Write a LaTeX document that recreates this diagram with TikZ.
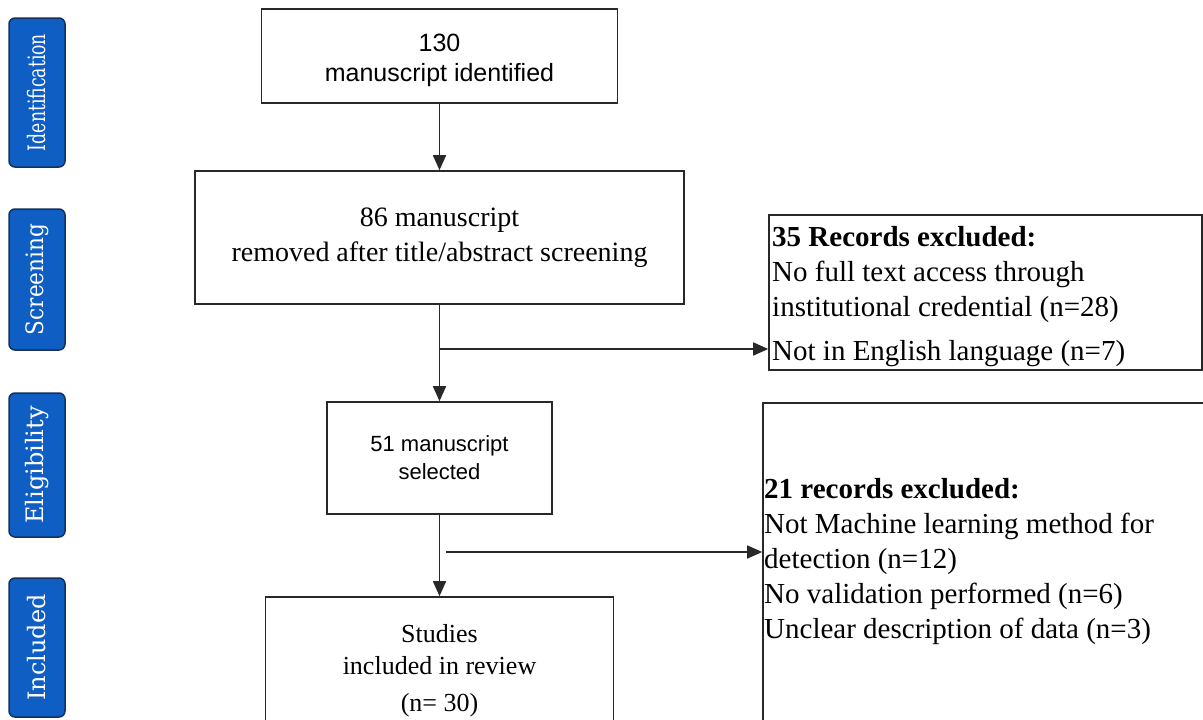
\documentclass[tikz,border=0pt]{standalone}
\usepackage{fontspec}
\usepackage{graphicx}
\setmainfont{Liberation Serif}
\setsansfont{Liberation Sans}
\newfontfamily\slabfont{DejaVu Serif}
\usetikzlibrary{arrows.meta}
\definecolor{phaseblue}{RGB}{14,94,196}
\definecolor{phaseedge}{RGB}{22,48,92}
\definecolor{boxline}{RGB}{40,40,40}
\begin{document}
\begin{tikzpicture}[x=1pt,y=-1pt,
  phase/.style={draw=phaseedge, fill=phaseblue, line width=1.5pt, rounded corners=6pt,
    minimum height=56pt, text=white, inner sep=0pt, rotate=90,
    font=\slabfont\fontsize{24}{24}\selectfont},
  flowbox/.style={draw=boxline, line width=1.6pt, align=center, inner sep=4pt},
  arr/.style={line width=1.6pt, draw=boxline, -{Triangle[length=15pt,width=13pt]}},
]
\useasboundingbox (0,0) rectangle (1203,720);
\clip (0,0) rectangle (1203,720);

% phase labels
\node[phase, minimum width=149pt] (p1) at (37,92.5) {\scalebox{0.72}[1]{Identification}};
\node[phase, minimum width=141pt] (p2) at (37,279.5) {\scalebox{0.9}[1]{Screening}};
\node[phase, minimum width=144pt] (p3) at (37,465) {Eligibility};
\node[phase, minimum width=139pt] (p4) at (37,647.5) {Included};

% main flow boxes
\node[flowbox, font=\sffamily\fontsize{25}{30}\selectfont, minimum width=356pt, minimum height=94pt]
  (b1) at (439.5,56) {\rule{0pt}{26pt}130\\manuscript identified};
\node[flowbox, font=\fontsize{28}{35}\selectfont, minimum width=489pt, minimum height=133pt]
  (b2) at (439.5,237.5) {86 manuscript\\removed after title/abstract screening};
\node[flowbox, font=\sffamily\fontsize{22}{28}\selectfont, minimum width=225pt, minimum height=112pt]
  (b3) at (439.5,458) {51 manuscript\\selected};
\node[flowbox, font=\fontsize{26}{32}\selectfont, minimum width=348pt, minimum height=148pt]
  (b5) at (439.5,671) {Studies\\included in review\\[5pt](n= 30)};

% exclusion boxes
\node[flowbox, minimum width=433pt, minimum height=155pt] (b4) at (985.5,292.5) {};
\node[font=\fontsize{29}{35}\selectfont, align=flush left, anchor=west, inner sep=0pt]
  (t4) at (772,297) {\textbf{35 Records excluded:}\\No full text access through\\institutional credential (n=28)\\[9pt]Not in English language (n=7)};
\node[flowbox, minimum width=497pt, minimum height=357pt] (b6) at (1011.5,581.5) {};
\node[font=\fontsize{29}{35}\selectfont, align=flush left, anchor=west, inner sep=0pt]
  (t6) at (764,562) {\textbf{21 records excluded:}\\Not Machine learning method for\\detection (n=12)\\No validation performed (n=6)\\Unclear description of data (n=3)};

% connectors
\draw[arr] (b1.south) -- (b2.north);
\draw[arr] (b2.south) -- (b3.north);
\draw[arr] (b3.south) -- (b5.north);
\coordinate (j1) at (439.5,349);
\coordinate (j2) at (446,552);
\draw[arr] (j1) -- (j1 -| b4.west);
\draw[arr] (j2) -- (j2 -| b6.west);
\end{tikzpicture}
\end{document}
